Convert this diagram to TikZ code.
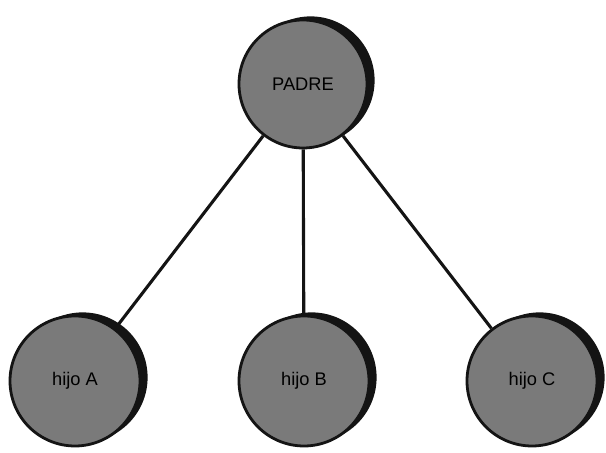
\documentclass[tikz,border=0pt]{standalone}
\usepackage{fontspec}
\setmainfont{Liberation Sans}
\usepackage{tikz}
\usetikzlibrary{shadows}
\definecolor{mygray}{RGB}{122,122,122}
\definecolor{mydark}{RGB}{20,20,20}
\tikzset{
  padrenode/.style={circle, draw=mydark, fill=mygray, minimum size=3.2cm,
    line width=2pt, inner sep=0pt, font=\fontsize{13}{15}\selectfont,
    general shadow={shadow xshift=0.19cm, shadow yshift=0.09cm, fill=mydark}},
  hijonode/.style={padrenode, minimum size=3.25cm},
  line/.style={line width=2.2pt, color=mydark}
}
\begin{document}
\begin{tikzpicture}
  \useasboundingbox (0,0) rectangle (15.15,11.325);
  \node[padrenode] (padre) at (7.575,9.225) {PADRE};
  \foreach \x/\n/\lab in {1.875/hijoA/hijo A,7.6/hijoB/hijo B,13.3/hijoC/hijo C} {
    \node[hijonode] (\n) at (\x,1.8) {\lab};
    \draw[line] (padre) -- (\n);
  }
\end{tikzpicture}
\end{document}
